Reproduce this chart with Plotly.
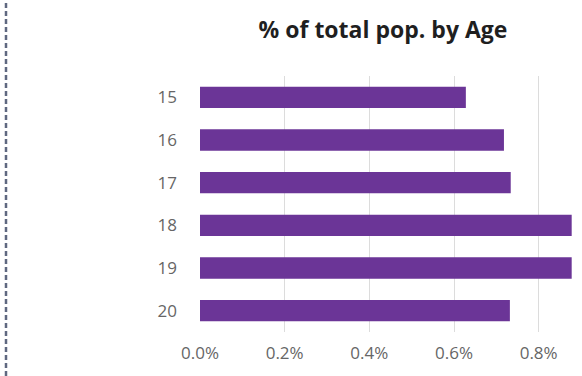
import plotly.graph_objects as go

ages = ["15", "16", "17", "18", "19", "20"]
pct = [0.628, 0.718, 0.734, 0.878, 0.878, 0.732]
x_ticks = [0.0, 0.2, 0.4, 0.6, 0.8]
x_tick_labels = ["0.0%", "0.2%", "0.4%", "0.6%", "0.8%"]

W, H = 582, 376
L, R, T, B = 200, 1, 76, 44

fig = go.Figure(go.Bar(
    y=ages, x=pct, orientation="h",
    marker=dict(color="#6B3597", line=dict(width=0)),
    width=0.5,
))

fig.update_layout(
    width=W, height=H,
    margin=dict(l=L, r=R, t=T, b=B),
    paper_bgcolor="white", plot_bgcolor="white",
    showlegend=False,
    font=dict(family="Open Sans, Lato, sans-serif", size=17, color="#666666"),
    title=dict(
        text="<b>% of total pop. by Age</b>",
        font=dict(family="Open Sans, Lato, sans-serif", size=23, color="#1f1f1f"),
        x=(383 - L) / (W - L - R), xref="paper", xanchor="center",
        y=1 - 30 / H, yref="container", yanchor="middle",
    ),
    xaxis=dict(
        range=[0, 0.9], tickvals=x_ticks, ticktext=x_tick_labels,
        showgrid=True, gridcolor="#dcdcdc", gridwidth=1,
        zeroline=False, showline=False, ticks="",
        ticklabelstandoff=9,
    ),
    yaxis=dict(
        categoryorder="array", categoryarray=ages, autorange="reversed",
        showgrid=False, zeroline=False, showline=False, ticks="",
        ticklabelstandoff=22,
    ),
    shapes=[dict(
        type="line", xref="paper", yref="paper",
        x0=(6 - L) / (W - L - R), x1=(6 - L) / (W - L - R),
        y0=-B / (H - T - B), y1=1 + T / (H - T - B),
        line=dict(color="#5f6880", width=2.5, dash="5px,3px"),
    )],
)

fig.write_html("out.html", config={"displayModeBar": False},
               post_script="document.body.style.margin='0';document.body.style.padding='0';")
